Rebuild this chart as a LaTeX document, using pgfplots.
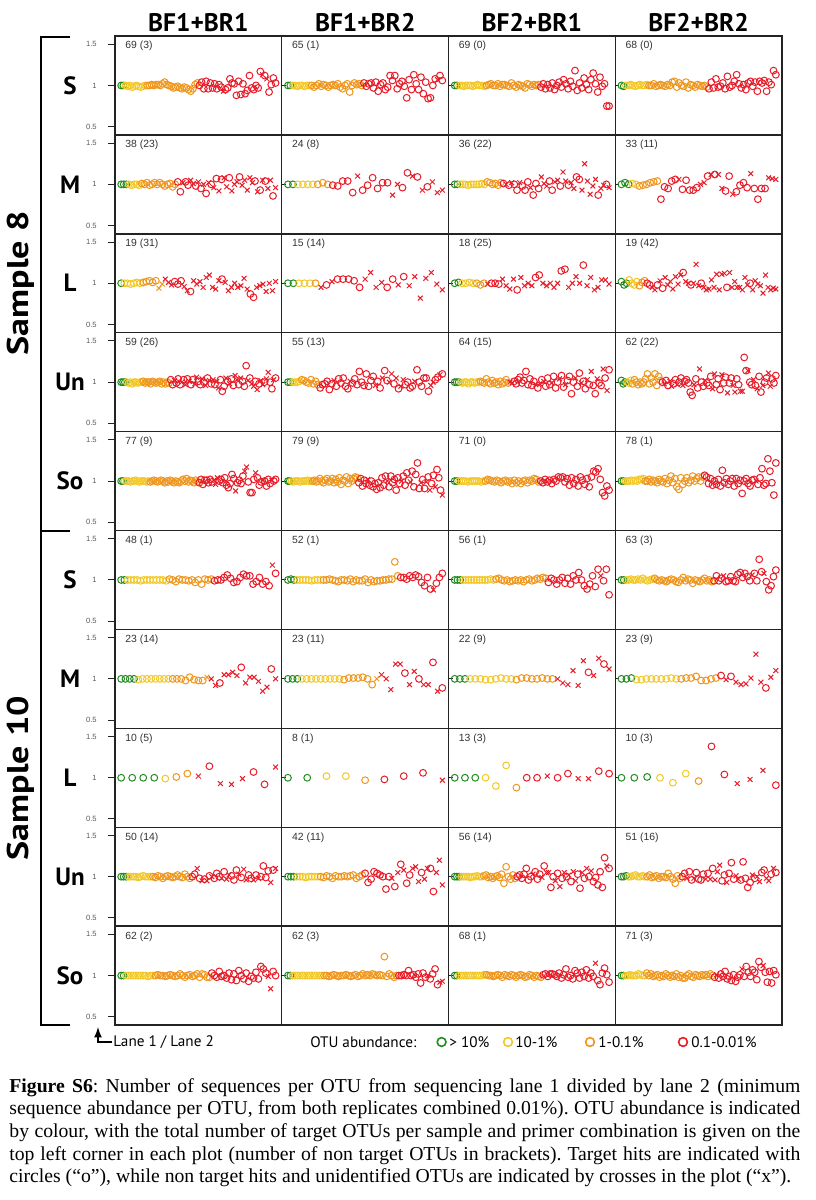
\documentclass[border=0pt]{standalone}
\usepackage{pgfplots}
\pgfplotsset{compat=1.18}
\usepackage{graphicx}
\usepackage{fontspec}
\setmainfont{Liberation Serif}
\newfontfamily\hv{Liberation Sans}
\newfontfamily\my{PT Sans}
\definecolor{cg}{RGB}{34,139,34}
\definecolor{cy}{RGB}{242,200,40}
\definecolor{co}{RGB}{238,150,30}
\definecolor{cr}{RGB}{232,28,40}
\definecolor{ax}{RGB}{35,35,35}
\pgfplotsset{
  panel/.style={scale only axis, width=83.375pt, height=49.45pt, anchor=north west,
    ymin=0.4, ymax=1.6, enlarge x limits=0.04, xtick=\empty,
    ytick={1}, yticklabels={}, ytick pos=left, tick align=inside,
    major tick length=2pt, tick style={ax, line width=0.5pt},
    axis line style={ax, line width=0.7pt}},
  first/.style={ytick={0.5,1,1.5}, yticklabels={0.5,1,1.5}, tick align=outside,
    major tick length=3.5pt,
    yticklabel style={font=\hv\fontsize{3.8}{4}\selectfont, text=black!65, inner sep=1pt, xshift=-4.5pt}},
  dots/.style={only marks, scatter, scatter src=explicit symbolic, mark size=1.7pt, line width=0.5pt,
    scatter/classes={g={mark=o,cg}, y={mark=o,cy}, o={mark=o,co}, r={mark=o,cr}, x={mark=x,cr}, q={mark=x,co}}},
}
\tikzset{cnt/.style={anchor=north west, inner sep=0pt, xshift=5pt, yshift=-2.5pt,
  font=\hv\fontsize{5.2}{6}\selectfont, text=black!80}}
\newcommand\cnt[1]{\node[cnt] at (rel axis cs:0,1) {#1};}
\begin{document}
\begin{tikzpicture}
\useasboundingbox (0,0) rectangle (407.5pt,-600pt);

% ---------------- Sample 8, S
\begin{axis}[panel,first,at={(57.5pt,-18pt)}]
\addplot[dots] table[meta=c,row sep=\\]{x y c\\
1 1.00 g\\2 1.00 g\\3 1.00 y\\4 0.99 y\\5 1.00 y\\6 0.98 y\\7 0.99 y\\8 1.00 y\\9 0.99 y\\10 0.98 y\\11 0.99 y\\12 1.00 y\\
13 1.00 o\\14 1.00 o\\15 1.01 o\\16 1.00 o\\17 1.01 o\\18 1.01 o\\19 1.00 o\\20 1.02 o\\21 1.04 o\\22 1.01 o\\23 1.00 o\\24 0.99 o\\25 0.97 o\\26 0.98 o\\27 0.99 o\\28 0.97 o\\29 0.96 o\\30 0.98 o\\31 0.97 o\\32 0.95 o\\33 0.93 o\\34 0.96 o\\35 1.01 o\\36 1.03 o\\
37 1.00 r\\38 1.04 r\\39 0.96 r\\40 1.05 r\\41 0.96 r\\42 1.03 r\\43 0.97 r\\44 1.02 r\\45 0.96 r\\46 1.01 r\\47 0.98 r\\48 0.93 x\\49 0.95 r\\50 0.97 r\\51 1.08 r\\52 1.03 r\\53 1.02 r\\54 0.88 r\\55 1.05 r\\56 0.89 r\\57 1.02 r\\58 0.90 r\\59 0.94 r\\60 1.12 r\\61 0.97 r\\62 0.95 r\\63 1.00 r\\64 0.97 r\\65 1.17 r\\66 1.13 x\\67 1.12 r\\68 1.08 x\\69 0.92 r\\70 1.01 r\\71 1.09 r\\72 1.03 r\\};
\cnt{69 (3)}
\end{axis}
\begin{axis}[panel,at={(140.875pt,-18pt)}]
\addplot[dots] table[meta=c,row sep=\\]{x y c\\
1 1.00 g\\2 1.00 g\\3 1.00 y\\4 1.00 y\\5 0.99 y\\6 1.00 y\\7 1.00 y\\8 0.99 y\\9 1.00 y\\10 1.00 y\\
11 1.00 o\\12 0.98 o\\13 1.00 o\\14 1.02 o\\15 0.99 o\\16 1.01 o\\17 1.00 o\\18 0.98 o\\19 1.00 o\\20 1.01 o\\21 1.00 o\\22 1.02 o\\23 0.98 o\\24 0.96 o\\25 1.00 o\\26 1.02 o\\27 0.92 o\\28 1.00 o\\29 1.03 o\\30 1.01 o\\31 1.02 o\\32 1.00 o\\
33 1.03 r\\34 0.99 r\\35 1.02 r\\36 1.03 r\\37 0.97 r\\38 1.04 r\\39 0.93 r\\40 1.01 r\\41 1.03 r\\42 0.95 r\\43 0.98 r\\44 1.12 r\\45 1.06 r\\46 1.12 r\\47 0.96 r\\48 1.02 r\\49 1.05 r\\50 0.99 r\\51 0.85 r\\52 1.07 r\\53 0.95 r\\54 1.13 r\\55 1.02 r\\56 0.95 r\\57 1.10 r\\58 0.90 r\\59 1.04 r\\60 0.84 r\\61 0.85 r\\62 1.00 r\\63 1.08 r\\64 1.07 x\\65 1.12 r\\66 1.06 r\\};
\cnt{65 (1)}
\end{axis}
\begin{axis}[panel,at={(224.25pt,-18pt)}]
\addplot[dots] table[meta=c,row sep=\\]{x y c\\
1 1.00 g\\2 1.00 g\\3 1.00 y\\4 1.00 y\\5 0.99 y\\6 1.00 y\\7 1.00 y\\8 1.00 y\\9 0.99 y\\10 1.00 y\\11 1.01 y\\12 1.00 y\\13 1.00 y\\14 0.99 y\\
15 1.00 o\\16 1.01 o\\17 1.02 o\\18 1.00 o\\19 1.00 o\\20 1.02 o\\21 0.99 o\\22 1.01 o\\23 1.01 o\\24 1.00 o\\25 0.99 o\\26 1.03 o\\27 1.00 o\\28 0.98 o\\29 1.01 o\\30 1.00 o\\31 0.99 o\\32 0.97 o\\33 1.02 o\\34 1.01 o\\35 0.99 o\\36 1.01 o\\37 1.00 o\\38 1.01 o\\
39 0.98 r\\40 1.02 r\\41 0.96 r\\42 1.01 r\\43 0.97 r\\44 1.03 r\\45 0.95 r\\46 1.00 r\\47 1.04 r\\48 0.98 r\\49 1.07 r\\50 1.02 r\\51 0.96 r\\52 1.05 r\\53 0.99 r\\54 1.18 r\\55 0.94 r\\56 1.03 r\\57 0.97 r\\58 1.09 r\\59 1.01 r\\60 0.95 r\\61 1.07 r\\62 1.15 r\\63 1.02 r\\64 0.92 r\\65 1.10 r\\66 0.99 r\\67 1.02 r\\68 0.75 r\\69 0.75 r\\};
\cnt{69 (0)}
\end{axis}
\begin{axis}[panel,at={(307.625pt,-18pt)}]
\addplot[dots] table[meta=c,row sep=\\]{x y c\\
1 1.00 g\\2 0.99 g\\3 1.00 y\\4 1.00 y\\5 1.01 y\\6 1.00 y\\7 0.99 y\\8 1.00 y\\9 1.01 y\\10 1.00 y\\11 1.00 y\\12 1.01 y\\
13 1.00 o\\14 1.00 o\\15 1.02 o\\16 0.99 o\\17 1.00 o\\18 1.01 o\\19 1.00 o\\20 0.99 o\\21 1.01 o\\22 1.00 o\\23 1.04 o\\24 1.05 o\\25 0.98 o\\26 1.03 o\\27 1.00 o\\28 0.99 o\\29 1.04 o\\30 0.97 o\\31 1.01 o\\32 1.00 o\\33 0.98 o\\34 1.01 o\\35 1.00 o\\36 0.99 o\\37 1.00 o\\38 0.98 o\\
39 0.96 r\\40 1.04 r\\41 0.97 r\\42 1.08 r\\43 0.98 r\\44 0.99 r\\45 1.03 r\\46 0.96 r\\47 1.11 r\\48 0.98 r\\49 1.00 r\\50 1.05 r\\51 1.13 r\\52 1.02 r\\53 0.97 r\\54 1.01 r\\55 0.95 r\\56 1.03 r\\57 1.05 r\\58 0.99 r\\59 1.04 r\\60 0.93 r\\61 1.05 r\\62 1.03 r\\63 1.06 r\\64 0.93 r\\65 1.04 r\\66 1.01 r\\67 1.18 r\\68 1.13 r\\};
\cnt{68 (0)}
\end{axis}

% ---------------- Sample 8, M
\begin{axis}[panel,first,at={(57.5pt,-67.45pt)}]
\addplot[dots] table[meta=c,row sep=\\]{x y c\\
1 1.00 g\\2 1.00 g\\3 1.00 g\\4 1.00 y\\5 0.99 y\\6 1.00 y\\7 1.00 y\\8 0.99 y\\
9 1.01 o\\10 1.00 o\\11 1.02 o\\12 0.99 o\\13 1.00 o\\14 1.02 o\\15 1.00 o\\16 1.02 o\\17 1.00 o\\18 0.98 o\\19 1.00 o\\20 1.01 o\\21 0.97 o\\22 1.00 o\\
23 1.03 r\\24 0.91 r\\25 1.02 x\\26 1.03 r\\27 0.99 r\\28 1.05 x\\29 1.01 x\\30 0.98 r\\31 1.03 x\\32 0.95 r\\33 1.00 x\\34 0.89 r\\35 1.02 x\\36 1.00 r\\37 0.96 x\\38 1.07 r\\39 0.92 x\\40 1.06 r\\41 1.08 x\\42 0.97 x\\43 1.08 r\\44 0.92 x\\45 1.00 x\\46 1.03 x\\47 1.09 r\\48 0.99 x\\49 1.05 x\\50 0.93 x\\51 1.08 x\\52 1.02 x\\53 1.04 r\\54 0.91 x\\55 0.93 r\\56 1.05 x\\57 1.04 r\\58 0.95 x\\59 1.05 x\\60 0.86 r\\61 0.96 x\\};
\cnt{38 (23)}
\end{axis}
\begin{axis}[panel,at={(140.875pt,-67.45pt)}]
\addplot[dots] table[meta=c,row sep=\\]{x y c\\
1 1.00 g\\2 1.00 g\\3 1.00 y\\4 1.00 y\\5 1.00 y\\6 1.00 y\\7 1.00 o\\8 1.02 o\\9 1.00 o\\
10 0.99 r\\11 0.98 r\\12 1.04 r\\13 1.04 r\\14 0.90 r\\15 1.10 x\\16 0.93 r\\17 0.99 r\\18 1.08 r\\19 0.95 r\\20 1.02 r\\21 1.02 r\\22 0.87 x\\23 1.00 x\\24 0.96 r\\25 1.14 r\\26 1.10 x\\27 1.09 r\\28 0.93 x\\29 0.97 r\\30 1.03 x\\31 0.90 x\\32 0.93 x\\};
\cnt{24 (8)}
\end{axis}
\begin{axis}[panel,at={(224.25pt,-67.45pt)}]
\addplot[dots] table[meta=c,row sep=\\]{x y c\\
1 1.00 g\\2 1.00 g\\3 1.00 y\\4 1.00 y\\5 1.00 y\\6 0.99 y\\7 1.00 y\\8 1.00 y\\9 1.00 y\\10 1.00 y\\11 1.01 y\\12 1.00 y\\
13 1.03 o\\14 1.02 o\\15 1.00 o\\16 1.01 o\\17 0.99 o\\18 1.02 o\\
19 1.01 r\\20 1.00 x\\21 0.99 r\\22 1.02 x\\23 1.00 r\\24 0.93 r\\25 1.02 x\\26 0.98 r\\27 0.93 r\\28 1.03 r\\29 0.96 x\\30 0.87 r\\31 1.01 r\\32 0.95 r\\33 1.09 x\\34 1.01 x\\35 0.98 x\\36 1.04 r\\37 0.93 r\\38 1.03 x\\39 1.05 x\\40 0.98 r\\41 1.15 x\\42 1.04 x\\43 0.99 r\\44 1.02 x\\45 0.95 x\\46 1.09 r\\47 1.06 r\\48 0.93 x\\49 1.25 x\\50 1.04 x\\51 0.88 x\\52 0.98 x\\53 1.06 x\\54 0.87 r\\55 0.95 x\\56 0.99 x\\57 1.00 r\\58 0.96 x\\};
\cnt{36 (22)}
\end{axis}
\begin{axis}[panel,at={(307.625pt,-67.45pt)}]
\addplot[dots] table[meta=c,row sep=\\]{x y c\\
1 1.00 g\\2 1.02 g\\3 1.00 g\\4 1.01 y\\5 1.00 y\\6 0.98 o\\7 0.99 o\\8 1.00 o\\9 1.02 o\\10 1.03 o\\11 1.04 o\\
12 0.82 r\\13 0.97 r\\14 0.95 r\\15 1.04 r\\16 1.06 r\\17 1.06 x\\18 0.94 r\\19 1.05 r\\20 0.93 r\\21 0.93 r\\22 0.96 r\\23 1.00 x\\24 1.02 x\\25 1.10 r\\26 1.12 x\\27 1.12 r\\28 1.12 x\\29 0.95 x\\30 0.92 r\\31 1.10 r\\32 0.88 x\\33 0.91 r\\34 0.99 r\\35 1.02 r\\36 0.96 r\\37 1.13 x\\38 0.95 r\\39 0.82 r\\40 0.95 r\\41 0.95 r\\42 1.08 x\\43 1.07 x\\44 1.06 x\\};
\cnt{33 (11)}
\end{axis}

% ---------------- Sample 8, L
\begin{axis}[panel,first,at={(57.5pt,-116.9pt)}]
\addplot[dots] table[meta=c,row sep=\\]{x y c\\
1 1.00 g\\2 1.00 y\\3 1.00 y\\4 0.99 y\\5 1.00 y\\6 1.01 y\\7 1.00 y\\8 1.01 o\\9 1.02 o\\10 1.03 o\\11 1.01 o\\12 1.03 o\\13 0.94 q\\14 0.99 q\\
15 1.05 x\\16 1.01 x\\17 0.98 x\\18 1.02 r\\19 0.99 r\\20 1.03 r\\21 0.96 x\\22 0.91 x\\23 0.90 r\\24 1.03 x\\25 0.99 x\\26 1.02 x\\27 0.95 x\\28 1.07 x\\29 1.10 x\\30 0.95 x\\31 0.93 x\\32 1.03 x\\33 1.05 r\\34 1.01 x\\35 0.91 x\\36 0.95 x\\37 1.00 x\\38 0.95 x\\39 0.97 x\\40 1.06 x\\41 0.93 x\\42 0.87 r\\43 0.83 r\\44 0.95 x\\45 0.97 x\\46 0.99 x\\47 0.90 x\\48 1.00 x\\49 0.91 x\\50 1.02 x\\};
\cnt{19 (31)}
\end{axis}
\begin{axis}[panel,at={(140.875pt,-116.9pt)}]
\addplot[dots] table[meta=c,row sep=\\]{x y c\\
1 1.00 g\\2 1.00 g\\3 1.00 y\\4 1.00 y\\5 1.00 y\\6 1.00 o\\
7 0.95 x\\8 0.98 r\\9 1.02 x\\10 1.05 r\\11 1.05 r\\12 1.05 r\\13 1.03 r\\14 0.95 r\\15 1.05 x\\16 1.13 x\\17 0.95 x\\18 1.01 x\\19 0.95 r\\20 1.05 r\\21 0.98 x\\22 1.08 r\\23 0.97 x\\24 1.08 x\\25 0.82 x\\26 1.06 x\\27 1.13 x\\28 0.99 x\\29 0.92 x\\};
\cnt{15 (14)}
\end{axis}
\begin{axis}[panel,at={(224.25pt,-116.9pt)}]
\addplot[dots] table[meta=c,row sep=\\]{x y c\\
1 1.00 g\\2 1.01 g\\3 1.00 y\\4 1.00 y\\5 1.01 y\\6 1.00 y\\7 1.00 o\\8 0.98 o\\9 1.00 o\\
10 0.99 x\\11 1.00 r\\12 1.00 r\\13 0.99 r\\14 1.05 x\\15 0.97 x\\16 0.93 x\\17 1.05 x\\18 0.92 r\\19 1.07 x\\20 0.97 x\\21 1.00 x\\22 0.97 x\\23 1.07 r\\24 1.10 r\\25 1.00 x\\26 0.97 x\\27 1.00 x\\28 0.95 x\\29 1.00 x\\30 1.15 r\\31 1.17 r\\32 0.95 x\\33 1.00 x\\34 1.08 x\\35 1.00 x\\36 1.22 r\\37 0.97 x\\38 1.07 x\\39 0.92 x\\40 0.95 x\\41 1.04 x\\42 1.04 x\\43 0.99 x\\};
\cnt{18 (25)}
\end{axis}
\begin{axis}[panel,at={(307.625pt,-116.9pt)}]
\addplot[dots] table[meta=c,row sep=\\]{x y c\\
1 1.02 g\\2 0.98 g\\3 1.00 g\\4 1.04 y\\5 1.00 y\\6 0.98 y\\7 1.02 y\\8 0.97 o\\9 1.01 o\\10 1.03 o\\
11 1.00 r\\12 0.98 r\\13 0.95 x\\14 0.92 x\\15 0.98 r\\16 1.03 x\\17 0.94 r\\18 1.07 x\\19 0.98 x\\20 1.02 x\\21 0.93 x\\22 1.08 x\\23 0.99 x\\24 1.10 x\\25 1.13 r\\26 1.02 x\\27 1.00 x\\28 0.98 r\\29 1.00 x\\30 1.23 x\\31 0.97 x\\32 1.00 r\\33 0.95 x\\34 0.92 x\\35 0.93 x\\36 1.04 x\\37 0.95 x\\38 1.11 x\\39 0.92 x\\40 1.11 x\\41 1.12 x\\42 0.95 r\\43 1.13 x\\44 0.95 x\\45 1.02 x\\46 0.95 x\\47 0.95 x\\48 0.92 x\\49 1.07 x\\50 0.98 x\\51 1.00 r\\52 0.92 x\\53 1.03 x\\54 0.99 x\\55 0.97 x\\56 0.88 x\\57 1.10 x\\58 0.95 x\\59 0.92 x\\60 0.94 x\\61 0.93 x\\};
\cnt{19 (42)}
\end{axis}

% ---------------- Sample 8, Un
\begin{axis}[panel,first,at={(57.5pt,-166.35pt)}]
\addplot[dots] table[meta=c,row sep=\\]{x y c\\
1 1.00 g\\2 1.00 g\\3 1.00 g\\4 1.00 y\\5 0.99 y\\6 1.00 y\\7 0.98 y\\8 1.00 y\\9 1.00 y\\10 0.99 y\\11 1.00 y\\12 1.00 y\\
13 1.01 o\\14 0.99 o\\15 1.00 o\\16 1.00 o\\17 0.98 o\\18 1.01 o\\19 1.00 o\\20 0.99 o\\21 1.00 o\\22 1.01 o\\23 0.98 o\\24 1.00 o\\25 0.98 o\\26 1.00 o\\27 0.99 o\\
28 1.03 r\\29 0.97 r\\30 1.02 x\\31 0.99 r\\32 1.04 r\\33 0.97 r\\34 1.00 x\\35 1.03 r\\36 0.97 x\\37 1.04 r\\38 1.01 x\\39 0.97 r\\40 1.03 r\\41 0.98 x\\42 1.06 x\\43 1.01 r\\44 0.97 r\\45 1.04 x\\46 1.00 r\\47 0.96 x\\48 1.05 r\\49 1.02 x\\50 0.98 r\\51 1.03 x\\52 0.97 r\\53 1.01 x\\54 0.93 x\\55 1.03 r\\56 0.89 r\\57 0.95 r\\58 1.05 x\\59 1.01 r\\60 0.98 x\\61 1.04 r\\62 0.96 r\\63 1.08 x\\64 1.03 x\\65 0.97 r\\66 1.05 x\\67 1.01 r\\68 0.95 r\\69 1.20 r\\70 1.02 x\\71 1.05 r\\72 0.98 x\\73 0.95 x\\74 1.01 r\\75 0.91 x\\76 0.98 r\\77 1.02 x\\78 0.97 x\\79 1.00 r\\80 1.04 x\\81 1.12 x\\82 1.00 r\\83 0.92 r\\84 1.03 x\\85 1.05 r\\};
\cnt{59 (26)}
\end{axis}
\begin{axis}[panel,at={(140.875pt,-166.35pt)}]
\addplot[dots] table[meta=c,row sep=\\]{x y c\\
1 1.00 g\\2 1.00 g\\3 1.00 y\\4 1.00 y\\5 1.00 y\\6 1.01 y\\7 1.03 o\\8 1.02 o\\9 1.00 o\\10 0.99 o\\11 1.03 o\\12 0.98 o\\13 1.01 o\\14 0.97 o\\
15 0.93 r\\16 0.97 r\\17 0.98 r\\18 1.01 r\\19 0.91 r\\20 0.98 r\\21 1.02 x\\22 0.95 r\\23 1.04 r\\24 0.99 r\\25 1.05 r\\26 0.95 r\\27 0.92 r\\28 1.01 x\\29 0.99 r\\30 1.04 r\\31 0.97 r\\32 1.13 r\\33 1.00 r\\34 0.96 r\\35 1.10 r\\36 0.95 r\\37 1.02 r\\38 1.07 r\\39 0.96 x\\40 1.01 r\\41 0.93 r\\42 1.05 x\\43 1.14 r\\44 1.02 r\\45 1.00 x\\46 1.10 x\\47 0.98 r\\48 1.05 x\\49 0.92 r\\50 0.95 x\\51 1.03 x\\52 0.97 r\\53 1.00 r\\54 0.93 r\\55 0.95 r\\56 1.01 x\\57 1.15 r\\58 1.00 r\\59 0.95 r\\60 1.05 r\\61 1.05 r\\62 0.89 r\\63 0.96 x\\64 1.00 x\\65 1.03 r\\66 1.06 r\\67 1.09 x\\68 1.10 r\\};
\cnt{55 (13)}
\end{axis}
\begin{axis}[panel,at={(224.25pt,-166.35pt)}]
\addplot[dots] table[meta=c,row sep=\\]{x y c\\
1 1.00 g\\2 1.00 g\\3 1.00 g\\4 1.00 y\\5 0.99 y\\6 1.00 y\\7 1.00 y\\8 0.98 y\\9 1.00 y\\10 1.00 y\\11 0.99 y\\12 1.00 y\\13 1.00 y\\
14 1.01 o\\15 1.00 o\\16 0.99 o\\17 1.04 o\\18 1.00 o\\19 0.98 o\\20 1.02 o\\21 0.99 o\\22 1.00 o\\23 0.97 o\\24 1.01 o\\25 0.98 o\\26 1.00 o\\27 1.03 o\\28 0.99 o\\
29 1.00 x\\30 0.99 x\\31 1.01 r\\32 0.98 r\\33 1.03 r\\34 1.06 r\\35 0.99 r\\36 1.02 r\\37 1.13 r\\38 0.97 r\\39 1.04 r\\40 0.96 r\\41 1.01 r\\42 0.97 x\\43 0.93 r\\44 0.98 x\\45 1.03 r\\46 1.01 x\\47 0.95 r\\48 1.05 r\\49 0.97 r\\50 0.99 x\\51 1.07 r\\52 0.93 r\\53 1.00 r\\54 1.04 x\\55 1.08 r\\56 0.94 r\\57 0.97 x\\58 1.02 r\\59 1.07 r\\60 0.86 r\\61 1.00 r\\62 1.05 x\\63 0.95 r\\64 1.11 r\\65 0.99 x\\66 1.01 r\\67 0.92 r\\68 1.03 x\\69 0.97 r\\70 1.13 x\\71 0.96 r\\72 0.86 r\\73 1.04 x\\74 0.99 r\\75 0.96 r\\76 1.16 x\\77 1.05 r\\78 0.90 x\\79 1.15 r\\};
\cnt{64 (15)}
\end{axis}
\begin{axis}[panel,at={(307.625pt,-166.35pt)}]
\addplot[dots] table[meta=c,row sep=\\]{x y c\\
1 1.02 g\\2 0.98 g\\3 1.00 g\\4 1.00 y\\5 0.99 y\\6 1.02 y\\
7 0.98 o\\8 1.03 o\\9 1.00 o\\10 0.97 o\\11 1.00 o\\12 0.98 o\\13 1.00 o\\14 1.04 o\\15 1.10 o\\16 0.98 o\\17 1.05 o\\18 1.00 o\\19 1.10 o\\20 0.96 o\\21 1.07 o\\22 1.02 o\\
23 1.00 r\\24 0.98 x\\25 1.02 r\\26 0.96 r\\27 1.01 x\\28 0.95 x\\29 0.98 r\\30 1.03 r\\31 0.97 x\\32 1.00 r\\33 1.05 r\\34 0.96 x\\35 1.01 r\\36 1.03 r\\37 0.99 r\\38 0.88 r\\39 0.84 r\\40 0.97 x\\41 1.04 r\\42 0.93 r\\43 1.16 x\\44 1.00 r\\45 0.95 r\\46 1.02 x\\47 0.99 r\\48 0.96 r\\49 1.07 r\\50 0.92 x\\51 1.10 x\\52 0.97 r\\53 1.04 r\\54 0.91 r\\55 1.09 x\\56 0.99 r\\57 1.06 r\\58 0.87 x\\59 0.99 r\\60 1.05 r\\61 0.96 x\\62 0.88 x\\63 1.04 r\\64 0.97 r\\65 0.89 x\\66 0.89 x\\67 1.30 r\\68 1.14 r\\69 1.14 x\\70 1.00 r\\71 0.97 r\\72 1.03 x\\73 0.96 r\\74 0.92 x\\75 1.07 r\\76 0.88 r\\77 0.96 x\\78 1.00 r\\79 1.05 r\\80 1.11 x\\81 0.95 x\\82 1.04 r\\83 0.99 r\\84 1.08 r\\};
\cnt{62 (22)}
\end{axis}

% ---------------- Sample 8, So
\begin{axis}[panel,first,at={(57.5pt,-215.8pt)}]
\addplot[dots] table[meta=c,row sep=\\]{x y c\\
1 1.00 g\\2 1.00 g\\3 1.00 y\\4 1.00 y\\5 1.00 y\\6 0.99 y\\7 1.00 y\\8 1.00 y\\9 1.01 y\\10 1.00 y\\11 0.99 y\\12 1.00 y\\13 1.00 y\\14 1.00 y\\15 0.99 y\\16 1.00 y\\
17 0.99 o\\18 1.00 o\\19 1.01 o\\20 1.00 o\\21 0.99 o\\22 1.00 o\\23 1.01 o\\24 1.00 o\\25 0.98 o\\26 1.00 o\\27 0.99 o\\28 1.01 o\\29 1.00 o\\30 0.98 o\\31 1.00 o\\32 0.99 o\\33 0.98 o\\34 1.00 o\\35 1.02 o\\36 1.00 o\\37 1.03 o\\38 0.99 o\\39 1.01 o\\40 1.00 o\\41 0.98 o\\42 1.01 o\\43 0.99 o\\
44 0.98 r\\45 1.02 r\\46 0.96 r\\47 1.01 r\\48 1.01 r\\49 0.98 r\\50 1.02 r\\51 0.99 r\\52 1.01 x\\53 0.96 x\\54 1.04 x\\55 1.00 r\\56 1.02 r\\57 0.98 r\\58 1.04 r\\59 0.95 r\\60 0.92 r\\61 0.97 r\\62 1.08 r\\63 1.03 r\\64 0.88 x\\65 0.98 r\\66 1.01 r\\67 0.97 r\\68 1.06 r\\69 1.12 x\\70 1.17 x\\71 0.99 r\\72 0.86 r\\73 0.86 r\\74 1.02 r\\75 1.10 x\\76 1.04 r\\77 0.95 r\\78 0.99 r\\79 1.01 x\\80 1.00 r\\81 0.94 r\\82 1.02 r\\83 0.97 r\\84 1.01 x\\85 1.00 r\\86 1.02 r\\};
\cnt{77 (9)}
\end{axis}
\begin{axis}[panel,at={(140.875pt,-215.8pt)}]
\addplot[dots] table[meta=c,row sep=\\]{x y c\\
1 1.00 g\\2 1.00 g\\3 1.00 y\\4 0.99 y\\5 1.00 y\\6 1.00 y\\7 1.00 y\\8 0.99 y\\9 1.00 y\\10 1.00 y\\11 1.00 y\\12 1.01 y\\13 1.00 y\\14 1.00 y\\
15 1.00 o\\16 1.01 o\\17 0.99 o\\18 1.00 o\\19 1.03 o\\20 1.00 o\\21 0.98 o\\22 1.01 o\\23 1.03 o\\24 0.99 o\\25 1.00 o\\26 1.03 o\\27 0.98 o\\28 1.02 o\\29 0.99 o\\30 1.04 o\\31 0.96 o\\32 1.01 o\\33 1.00 o\\34 1.05 o\\35 0.97 o\\36 1.03 o\\37 1.00 o\\38 1.03 o\\39 1.05 o\\40 1.04 o\\
41 0.98 r\\42 1.03 r\\43 0.94 r\\44 1.01 r\\45 0.97 r\\46 1.02 x\\47 0.95 r\\48 1.00 r\\49 0.93 r\\50 0.97 r\\51 0.90 r\\52 0.98 r\\53 0.92 r\\54 1.04 r\\55 0.95 r\\56 1.06 r\\57 1.00 x\\58 0.93 r\\59 1.06 r\\60 0.98 r\\61 1.02 r\\62 0.89 r\\63 1.04 r\\64 0.97 r\\65 1.00 x\\66 1.06 r\\67 0.95 r\\68 1.10 r\\69 1.01 r\\70 0.99 x\\71 1.12 r\\72 0.93 r\\73 1.08 r\\74 1.22 r\\75 0.91 r\\76 0.98 x\\77 1.02 r\\78 0.91 r\\79 0.99 x\\80 1.05 r\\81 0.89 x\\82 0.97 r\\83 1.07 r\\84 0.93 x\\85 1.14 r\\86 1.04 r\\87 0.89 r\\88 0.83 x\\};
\cnt{79 (9)}
\end{axis}
\begin{axis}[panel,at={(224.25pt,-215.8pt)}]
\addplot[dots] table[meta=c,row sep=\\]{x y c\\
1 1.00 g\\2 1.00 g\\3 1.00 y\\4 1.00 y\\5 1.00 y\\6 1.00 y\\7 0.99 y\\8 1.00 y\\9 1.00 y\\10 1.00 y\\11 1.00 y\\12 1.00 y\\13 0.99 y\\14 1.00 y\\
15 1.00 o\\16 1.02 o\\17 1.01 o\\18 1.00 o\\19 0.99 o\\20 1.01 o\\21 1.00 o\\22 0.98 o\\23 1.00 o\\24 1.01 o\\25 0.99 o\\26 1.00 o\\27 0.97 o\\28 1.01 o\\29 0.98 o\\30 1.00 o\\31 0.97 o\\32 1.00 o\\33 1.01 o\\34 0.98 o\\35 1.01 o\\36 1.00 o\\37 1.03 o\\38 1.02 o\\39 0.99 o\\
40 1.00 r\\41 0.98 r\\42 1.02 r\\43 0.99 r\\44 1.01 r\\45 0.97 r\\46 1.02 r\\47 1.00 r\\48 1.05 r\\49 1.04 r\\50 1.05 r\\51 0.99 r\\52 1.03 r\\53 0.95 r\\54 1.04 r\\55 0.97 r\\56 1.02 r\\57 0.94 r\\58 1.05 r\\59 1.01 r\\60 0.96 r\\61 1.03 r\\62 0.93 r\\63 1.05 r\\64 1.12 r\\65 1.11 r\\66 1.15 r\\67 1.02 r\\68 0.86 r\\69 0.82 r\\70 0.94 r\\71 0.89 r\\};
\cnt{71 (0)}
\end{axis}
\begin{axis}[panel,at={(307.625pt,-215.8pt)}]
\addplot[dots] table[meta=c,row sep=\\]{x y c\\
1 1.00 g\\2 1.00 g\\3 1.00 y\\4 1.00 y\\5 1.00 y\\6 1.01 y\\7 1.00 y\\8 1.01 y\\9 1.00 y\\10 1.02 y\\11 1.02 y\\12 1.03 y\\
13 1.00 o\\14 1.00 o\\15 1.02 o\\16 0.99 o\\17 1.01 o\\18 1.00 o\\19 0.98 o\\20 1.02 o\\21 1.00 o\\22 0.99 o\\23 1.03 o\\24 0.97 o\\25 1.01 o\\26 1.06 o\\27 0.98 o\\28 1.03 o\\29 0.93 o\\30 0.90 o\\31 1.04 o\\32 0.96 o\\33 1.00 o\\34 1.04 o\\35 0.98 o\\36 1.01 o\\37 1.06 o\\38 1.00 o\\39 1.03 o\\40 1.05 o\\41 1.00 o\\42 1.05 o\\
43 1.07 r\\44 1.05 r\\45 0.97 r\\46 1.03 r\\47 0.95 r\\48 1.00 r\\49 0.96 r\\50 1.02 r\\51 0.94 r\\52 1.13 r\\53 0.98 r\\54 1.03 r\\55 0.96 r\\56 1.00 r\\57 1.03 r\\58 0.94 r\\59 1.03 r\\60 0.97 r\\61 1.01 r\\62 0.85 r\\63 1.00 r\\64 1.03 r\\65 0.97 r\\66 0.94 r\\67 1.01 r\\68 1.02 r\\69 1.00 x\\70 0.96 r\\71 1.04 r\\72 1.15 r\\73 0.95 r\\74 0.97 r\\75 1.27 r\\76 1.12 r\\77 0.98 r\\78 0.83 r\\79 1.22 r\\};
\cnt{78 (1)}
\end{axis}

% ---------------- Sample 10, S
\begin{axis}[panel,first,at={(57.5pt,-265.25pt)}]
\addplot[dots] table[meta=c,row sep=\\]{x y c\\
1 1.00 g\\2 1.00 g\\3 1.00 y\\4 1.00 y\\5 1.00 y\\6 1.00 y\\7 0.99 y\\8 1.00 y\\9 1.00 y\\10 1.00 y\\11 1.00 y\\12 1.00 y\\13 1.00 y\\14 1.00 y\\15 0.99 y\\
16 1.01 o\\17 1.00 o\\18 0.98 o\\19 1.01 o\\20 1.00 o\\21 1.00 o\\22 0.99 o\\23 1.00 o\\24 0.97 o\\25 1.00 o\\26 0.95 o\\27 1.01 o\\28 1.00 o\\29 1.01 o\\
30 0.99 r\\31 1.00 r\\32 1.00 r\\33 1.03 r\\34 1.06 r\\35 1.02 r\\36 0.97 r\\37 0.98 r\\38 1.03 r\\39 1.07 r\\40 1.05 r\\41 1.05 r\\42 0.95 r\\43 0.98 r\\44 1.03 r\\45 0.95 r\\46 0.98 r\\47 0.93 r\\48 1.18 x\\49 1.08 r\\};
\cnt{48 (1)}
\end{axis}
\begin{axis}[panel,at={(140.875pt,-265.25pt)}]
\addplot[dots] table[meta=c,row sep=\\]{x y c\\
1 1.00 g\\2 1.01 g\\3 1.00 g\\4 1.00 y\\5 1.00 y\\6 1.00 y\\7 1.00 y\\8 1.00 y\\9 0.99 y\\10 1.00 y\\11 1.00 y\\12 1.00 y\\
13 1.00 o\\14 1.00 o\\15 1.01 o\\16 1.00 o\\17 0.99 o\\18 0.98 o\\19 1.00 o\\20 1.00 o\\21 0.99 o\\22 1.01 o\\23 0.98 o\\24 1.00 o\\25 0.99 o\\26 0.99 o\\27 1.01 o\\28 0.97 o\\29 1.00 o\\30 0.98 o\\31 0.99 o\\32 0.99 o\\33 1.00 o\\34 1.00 o\\35 1.01 o\\36 1.01 o\\37 1.22 o\\38 1.05 o\\
39 1.03 r\\40 1.03 r\\41 1.01 r\\42 1.05 r\\43 1.03 r\\44 1.06 r\\45 1.04 r\\46 0.97 r\\47 0.93 r\\48 1.03 r\\49 0.89 r\\50 0.88 x\\51 0.96 r\\52 1.03 r\\53 1.08 r\\};
\cnt{52 (1)}
\end{axis}
\begin{axis}[panel,at={(224.25pt,-265.25pt)}]
\addplot[dots] table[meta=c,row sep=\\]{x y c\\
1 1.00 g\\2 1.00 g\\3 1.00 g\\4 1.00 y\\5 1.00 y\\6 1.00 y\\7 1.00 y\\8 1.00 y\\9 1.00 y\\10 1.00 y\\11 1.00 y\\12 1.00 y\\13 1.00 y\\14 1.01 y\\15 1.00 y\\
16 1.01 o\\17 1.02 o\\18 1.00 o\\19 0.99 o\\20 1.00 o\\21 0.98 o\\22 0.99 o\\23 1.00 o\\24 0.99 o\\25 1.00 o\\26 0.98 o\\27 1.00 o\\28 1.01 o\\29 0.99 o\\30 1.00 o\\31 1.02 o\\32 1.01 o\\33 1.03 o\\34 1.02 o\\
35 0.97 r\\36 1.02 r\\37 1.00 r\\38 0.95 r\\39 1.00 r\\40 1.03 r\\41 0.96 r\\42 1.02 r\\43 0.95 r\\44 1.05 r\\45 1.00 r\\46 1.09 r\\47 1.00 r\\48 0.93 r\\49 0.89 r\\50 0.95 r\\51 1.05 r\\52 0.92 r\\53 1.13 r\\54 1.05 x\\55 0.99 r\\56 1.13 r\\57 0.82 r\\};
\cnt{56 (1)}
\end{axis}
\begin{axis}[panel,at={(307.625pt,-265.25pt)}]
\addplot[dots] table[meta=c,row sep=\\]{x y c\\
1 1.00 g\\2 1.00 g\\3 1.00 y\\4 1.00 y\\5 1.01 y\\6 1.00 y\\7 1.00 y\\8 1.01 y\\9 1.00 y\\10 1.02 y\\11 1.00 y\\12 0.99 y\\13 1.00 y\\14 1.01 y\\
15 1.02 o\\16 1.00 o\\17 0.99 o\\18 1.00 o\\19 0.99 o\\20 0.98 o\\21 1.00 o\\22 1.01 o\\23 1.00 o\\24 0.98 o\\25 0.97 o\\26 1.00 o\\27 1.03 o\\28 0.99 o\\29 1.01 o\\30 1.00 o\\31 0.96 o\\32 1.00 o\\33 0.99 o\\34 0.98 o\\35 1.00 o\\36 1.02 o\\37 0.99 o\\38 1.00 o\\39 0.98 o\\
40 0.99 r\\41 1.05 r\\42 0.99 r\\43 1.02 r\\44 1.05 x\\45 0.98 r\\46 0.99 r\\47 1.04 r\\48 0.99 r\\49 0.98 r\\50 1.07 r\\51 1.09 r\\52 1.03 r\\53 1.08 r\\54 1.04 r\\55 0.99 r\\56 1.06 x\\57 1.08 r\\58 0.99 r\\59 1.25 r\\60 1.10 r\\61 1.08 x\\62 0.98 r\\63 0.88 r\\64 0.93 r\\65 1.04 r\\66 1.12 r\\};
\cnt{63 (3)}
\end{axis}

% ---------------- Sample 10, M
\begin{axis}[panel,first,at={(57.5pt,-314.7pt)}]
\addplot[dots] table[meta=c,row sep=\\]{x y c\\
1 1.00 g\\2 1.00 g\\3 1.00 g\\4 1.00 g\\5 0.99 y\\6 1.00 y\\7 1.00 y\\8 1.00 y\\9 1.00 y\\10 1.00 y\\11 1.00 y\\12 1.00 y\\
13 1.00 o\\14 1.00 o\\15 1.00 o\\16 0.98 o\\17 1.02 o\\18 0.99 o\\19 0.98 o\\20 0.98 o\\
21 1.02 q\\22 1.00 x\\23 0.92 x\\24 0.95 r\\25 1.05 x\\26 1.05 x\\27 1.08 x\\28 1.04 x\\29 1.14 r\\30 0.95 x\\31 1.02 x\\32 1.02 x\\33 0.97 x\\34 0.85 x\\35 0.90 x\\36 1.12 r\\37 1.00 x\\};
\cnt{23 (14)}
\end{axis}
\begin{axis}[panel,at={(140.875pt,-314.7pt)}]
\addplot[dots] table[meta=c,row sep=\\]{x y c\\
1 1.00 g\\2 1.00 g\\3 1.00 g\\4 1.00 y\\5 1.00 y\\6 1.00 y\\7 1.00 y\\8 1.00 y\\9 1.00 y\\10 1.00 y\\11 1.00 y\\12 1.00 y\\
13 0.99 o\\14 1.01 o\\15 1.01 o\\16 1.01 o\\17 1.02 o\\18 1.00 o\\19 0.93 o\\
20 1.00 q\\21 1.05 x\\22 1.00 x\\23 0.87 x\\24 1.18 x\\25 1.18 x\\26 1.07 r\\27 0.93 x\\28 1.09 x\\29 1.00 r\\30 0.93 x\\31 0.93 x\\32 1.20 r\\33 0.85 x\\34 0.89 r\\};
\cnt{23 (11)}
\end{axis}
\begin{axis}[panel,at={(224.25pt,-314.7pt)}]
\addplot[dots] table[meta=c,row sep=\\]{x y c\\
1 1.00 g\\2 1.00 g\\3 1.00 g\\4 1.00 y\\5 1.00 y\\6 1.00 y\\7 0.99 y\\8 0.99 y\\9 1.00 y\\10 1.01 y\\11 1.00 y\\12 1.00 y\\
13 0.99 o\\14 1.01 o\\15 1.01 o\\16 1.00 o\\17 1.00 o\\18 1.01 o\\19 1.00 o\\20 1.00 o\\
21 1.00 x\\22 0.95 x\\23 0.93 x\\24 1.10 x\\25 0.92 x\\26 1.22 x\\27 1.08 r\\28 1.04 x\\29 1.25 x\\30 1.18 r\\31 1.12 x\\};
\cnt{22 (9)}
\end{axis}
\begin{axis}[panel,at={(307.625pt,-314.7pt)}]
\addplot[dots] table[meta=c,row sep=\\]{x y c\\
1 1.00 g\\2 1.00 g\\3 1.01 g\\4 0.99 y\\5 0.99 y\\6 1.00 y\\7 1.00 y\\8 1.00 y\\9 1.00 y\\10 1.00 y\\11 1.01 y\\12 1.00 y\\
13 1.00 o\\14 1.01 o\\15 1.01 o\\16 1.03 o\\17 0.98 o\\18 0.98 o\\19 1.00 o\\20 1.01 o\\
21 1.04 r\\22 0.99 x\\23 1.03 r\\24 0.96 x\\25 0.93 x\\26 0.94 x\\27 1.01 x\\28 1.30 x\\29 0.96 x\\30 0.89 r\\31 1.02 x\\32 1.10 x\\};
\cnt{23 (9)}
\end{axis}

% ---------------- Sample 10, L
\begin{axis}[panel,first,at={(57.5pt,-364.15pt)}]
\addplot[dots] table[meta=c,row sep=\\]{x y c\\
1 1.00 g\\2 1.00 g\\3 1.00 g\\4 1.00 g\\5 0.99 y\\6 1.01 o\\7 1.05 o\\8 1.02 x\\9 1.14 r\\10 0.93 x\\11 0.92 x\\12 0.99 x\\13 1.07 r\\14 0.92 r\\15 1.13 x\\};
\cnt{10 (5)}
\end{axis}
\begin{axis}[panel,at={(140.875pt,-364.15pt)}]
\addplot[dots] table[meta=c,row sep=\\]{x y c\\
1 1.00 g\\2 1.00 g\\3 1.02 y\\4 1.02 y\\5 0.97 o\\6 0.98 r\\7 1.02 r\\8 1.06 r\\9 0.97 x\\};
\cnt{8 (1)}
\end{axis}
\begin{axis}[panel,at={(224.25pt,-364.15pt)}]
\addplot[dots] table[meta=c,row sep=\\]{x y c\\
1 1.00 g\\2 1.00 g\\3 1.00 g\\4 1.00 y\\5 0.90 y\\6 1.15 y\\7 0.88 o\\8 1.00 r\\9 1.00 r\\10 1.02 x\\11 1.00 r\\12 1.05 r\\13 0.99 x\\14 0.99 x\\15 1.08 r\\16 1.05 r\\};
\cnt{13 (3)}
\end{axis}
\begin{axis}[panel,at={(307.625pt,-364.15pt)}]
\addplot[dots] table[meta=c,row sep=\\]{x y c\\
1 1.00 g\\2 1.00 g\\3 1.01 g\\4 1.00 y\\5 0.94 y\\6 1.05 y\\7 0.96 o\\8 1.38 r\\9 1.04 r\\10 0.93 x\\11 0.98 x\\12 1.09 x\\13 0.91 r\\};
\cnt{10 (3)}
\end{axis}

% ---------------- Sample 10, Un
\begin{axis}[panel,first,at={(57.5pt,-413.6pt)}]
\addplot[dots] table[meta=c,row sep=\\]{x y c\\
1 1.00 g\\2 1.00 g\\3 1.00 g\\4 1.00 y\\5 1.00 y\\6 1.00 y\\7 1.00 y\\8 0.99 y\\9 1.00 y\\10 1.01 y\\11 1.00 y\\12 1.00 y\\13 1.00 y\\
14 1.00 o\\15 0.99 o\\16 1.01 o\\17 1.00 o\\18 0.98 o\\19 1.00 o\\20 1.01 o\\21 1.00 o\\22 0.99 o\\23 1.00 o\\24 1.02 o\\25 1.00 o\\26 0.99 o\\27 1.03 o\\28 1.00 o\\29 0.98 o\\
30 1.00 r\\31 1.03 r\\32 1.10 x\\33 0.98 r\\34 0.95 x\\35 0.97 r\\36 0.95 x\\37 1.01 r\\38 1.00 x\\39 0.98 r\\40 1.04 r\\41 1.00 r\\42 0.98 x\\43 1.06 r\\44 0.97 x\\45 1.02 x\\46 1.01 r\\47 0.96 r\\48 1.08 r\\49 1.03 x\\50 0.99 r\\51 1.09 x\\52 0.96 x\\53 1.02 r\\54 0.98 r\\55 0.96 x\\56 1.02 r\\57 0.98 x\\58 1.00 r\\59 1.13 r\\60 0.99 r\\61 1.07 r\\62 0.93 x\\63 1.08 r\\64 1.10 x\\};
\cnt{50 (14)}
\end{axis}
\begin{axis}[panel,at={(140.875pt,-413.6pt)}]
\addplot[dots] table[meta=c,row sep=\\]{x y c\\
1 1.00 g\\2 1.00 g\\3 1.00 g\\4 1.00 y\\5 1.00 y\\6 1.00 y\\7 0.99 y\\8 1.00 y\\9 1.00 y\\10 1.00 y\\11 1.00 y\\
12 1.00 o\\13 0.99 o\\14 1.01 o\\15 1.00 o\\16 0.98 o\\17 1.01 o\\18 1.00 o\\19 1.00 o\\20 1.01 o\\21 1.00 o\\22 1.01 o\\23 1.02 o\\24 0.98 o\\25 1.00 o\\26 1.02 o\\
27 1.04 r\\28 0.93 r\\29 0.97 r\\30 1.06 r\\31 1.04 r\\32 1.02 r\\33 1.00 r\\34 0.85 r\\35 1.00 r\\36 0.98 x\\37 0.88 r\\38 1.05 x\\39 1.15 r\\40 1.08 x\\41 0.92 r\\42 1.02 r\\43 1.10 x\\44 1.12 x\\45 0.94 x\\46 1.05 r\\47 0.97 x\\48 1.10 x\\49 1.10 r\\50 0.82 r\\51 1.05 x\\52 1.20 x\\53 0.90 x\\};
\cnt{42 (11)}
\end{axis}
\begin{axis}[panel,at={(224.25pt,-413.6pt)}]
\addplot[dots] table[meta=c,row sep=\\]{x y c\\
1 1.00 g\\2 1.00 g\\3 1.00 g\\4 1.00 y\\5 1.00 y\\6 1.00 y\\7 1.00 y\\8 0.99 y\\9 1.00 y\\10 1.00 y\\11 1.01 y\\12 1.00 y\\13 1.00 y\\
14 1.01 o\\15 1.02 o\\16 0.99 o\\17 1.00 o\\18 0.98 o\\19 1.00 o\\20 1.01 o\\21 0.99 o\\22 1.03 o\\23 0.92 o\\24 1.12 o\\25 1.00 o\\26 0.97 o\\27 1.02 o\\28 0.98 o\\
29 1.00 r\\30 1.02 r\\31 0.98 r\\32 1.03 r\\33 1.10 r\\34 0.96 r\\35 1.00 r\\36 1.03 x\\37 1.06 r\\38 0.97 r\\39 1.03 r\\40 0.99 x\\41 1.13 r\\42 1.05 x\\43 1.05 x\\44 0.87 r\\45 1.00 r\\46 0.95 x\\47 1.04 r\\48 0.88 x\\49 0.98 r\\50 1.05 x\\51 1.00 r\\52 1.02 x\\53 0.94 r\\54 1.06 x\\55 0.95 x\\56 1.03 r\\57 0.86 r\\58 1.05 x\\59 0.98 r\\60 1.10 x\\61 1.00 r\\62 1.07 x\\63 0.94 r\\64 0.99 r\\65 0.90 r\\66 1.06 r\\67 0.87 r\\68 1.23 r\\69 1.13 x\\70 1.10 r\\};
\cnt{56 (14)}
\end{axis}
\begin{axis}[panel,at={(307.625pt,-413.6pt)}]
\addplot[dots] table[meta=c,row sep=\\]{x y c\\
1 1.00 g\\2 1.00 g\\3 1.01 g\\4 1.00 y\\5 1.00 y\\6 1.01 y\\7 1.02 y\\8 1.00 y\\9 1.00 y\\10 1.01 y\\11 1.00 y\\
12 1.00 o\\13 1.02 o\\14 0.99 o\\15 1.00 o\\16 1.01 o\\17 0.98 o\\18 1.00 o\\19 1.00 o\\20 0.99 o\\21 1.04 o\\22 1.00 o\\23 0.97 o\\24 0.92 o\\25 1.01 o\\26 0.98 o\\
27 1.00 r\\28 1.04 r\\29 0.98 x\\30 1.06 r\\31 0.96 r\\32 0.98 x\\33 1.05 r\\34 0.97 r\\35 0.96 r\\36 1.03 r\\37 0.97 x\\38 1.04 r\\39 0.97 x\\40 1.10 r\\41 0.96 x\\42 1.06 x\\43 1.14 x\\44 0.95 r\\45 1.02 r\\46 0.93 x\\47 1.04 r\\48 1.17 r\\49 0.97 r\\50 1.01 x\\51 0.97 x\\52 0.96 r\\53 1.18 r\\54 0.98 r\\55 0.87 r\\56 0.93 r\\57 1.02 x\\58 0.98 r\\59 1.00 x\\60 0.94 x\\61 1.05 r\\62 1.08 r\\63 0.98 x\\64 0.95 x\\65 1.03 r\\66 1.10 x\\67 1.05 r\\};
\cnt{51 (16)}
\end{axis}

% ---------------- Sample 10, So
\begin{axis}[panel,first,at={(57.5pt,-463.05pt)}]
\addplot[dots] table[meta=c,row sep=\\]{x y c\\
1 1.00 g\\2 1.00 g\\3 1.00 y\\4 1.00 y\\5 1.00 y\\6 1.00 y\\7 1.00 y\\8 1.00 y\\9 1.00 y\\10 1.00 y\\11 1.00 y\\12 0.99 y\\13 1.00 y\\14 1.00 y\\
15 1.00 o\\16 1.01 o\\17 1.00 o\\18 1.00 o\\19 0.99 o\\20 1.00 o\\21 1.01 o\\22 1.00 o\\23 0.99 o\\24 1.00 o\\25 1.02 o\\26 1.00 o\\27 0.98 o\\28 1.00 o\\29 1.01 o\\30 0.99 o\\31 1.00 o\\32 1.02 o\\33 0.98 o\\34 1.02 o\\35 1.01 o\\36 0.98 o\\37 0.98 o\\
38 1.03 r\\39 1.00 r\\40 0.98 r\\41 1.05 r\\42 0.99 r\\43 1.00 r\\44 0.97 r\\45 1.03 r\\46 0.95 r\\47 1.02 r\\48 0.94 r\\49 1.06 r\\50 1.00 r\\51 0.96 r\\52 1.03 r\\53 0.93 r\\54 0.99 r\\55 0.97 r\\56 1.04 r\\57 0.96 r\\58 1.11 r\\59 1.08 r\\60 1.03 r\\61 0.99 x\\62 0.84 x\\63 1.05 r\\64 1.00 r\\};
\cnt{62 (2)}
\end{axis}
\begin{axis}[panel,at={(140.875pt,-463.05pt)}]
\addplot[dots] table[meta=c,row sep=\\]{x y c\\
1 1.00 g\\2 1.00 g\\3 1.00 y\\4 1.00 y\\5 1.00 y\\6 1.00 y\\7 1.00 y\\8 1.00 y\\9 1.00 y\\10 1.00 y\\11 1.00 y\\12 1.00 y\\13 1.00 y\\14 1.00 y\\15 1.00 y\\
16 1.00 o\\17 1.00 o\\18 0.99 o\\19 1.00 o\\20 1.01 o\\21 1.00 o\\22 0.99 o\\23 1.00 o\\24 1.00 o\\25 1.01 o\\26 1.00 o\\27 0.99 o\\28 1.00 o\\29 1.01 o\\30 0.99 o\\31 1.00 o\\32 1.02 o\\33 1.00 o\\34 1.01 o\\35 1.00 o\\36 1.02 o\\37 1.01 o\\38 1.00 o\\39 1.01 o\\40 1.00 o\\41 1.23 o\\42 0.99 o\\43 1.02 o\\44 1.00 o\\45 0.98 o\\46 1.00 o\\
47 1.00 r\\48 1.00 r\\49 1.01 r\\50 1.00 r\\51 1.06 r\\52 1.00 r\\53 1.01 r\\54 0.98 r\\55 1.02 r\\56 0.91 r\\57 1.03 r\\58 0.98 r\\59 1.00 x\\60 0.96 r\\61 1.02 r\\62 1.08 r\\63 0.89 r\\64 0.92 x\\65 0.93 x\\};
\cnt{62 (3)}
\end{axis}
\begin{axis}[panel,at={(224.25pt,-463.05pt)}]
\addplot[dots] table[meta=c,row sep=\\]{x y c\\
1 1.00 g\\2 1.00 g\\3 1.00 y\\4 1.00 y\\5 1.00 y\\6 1.00 y\\7 1.00 y\\8 1.00 y\\9 1.00 y\\10 1.00 y\\11 1.00 y\\12 1.00 y\\13 1.00 y\\14 1.01 y\\
15 1.01 o\\16 1.00 o\\17 1.00 o\\18 0.99 o\\19 1.00 o\\20 1.01 o\\21 1.00 o\\22 0.98 o\\23 1.01 o\\24 1.00 o\\25 0.99 o\\26 1.01 o\\27 1.00 o\\28 0.98 o\\29 1.00 o\\30 1.01 o\\31 1.00 o\\32 0.98 o\\33 0.99 o\\34 1.01 o\\35 1.00 o\\36 0.98 o\\37 1.00 o\\38 0.99 o\\39 0.98 o\\
40 1.01 r\\41 1.02 r\\42 0.99 r\\43 1.02 r\\44 1.02 r\\45 1.01 r\\46 0.99 r\\47 1.03 r\\48 0.97 r\\49 1.01 r\\50 1.08 r\\51 0.98 r\\52 1.00 r\\53 0.96 r\\54 1.06 r\\55 1.03 r\\56 0.97 r\\57 1.04 r\\58 0.99 r\\59 1.07 r\\60 0.97 r\\61 1.03 r\\62 0.99 r\\63 1.15 x\\64 0.94 r\\65 0.89 r\\66 1.03 r\\67 1.09 r\\68 1.01 r\\69 0.92 r\\};
\cnt{68 (1)}
\end{axis}
\begin{axis}[panel,at={(307.625pt,-463.05pt)}]
\addplot[dots] table[meta=c,row sep=\\]{x y c\\
1 1.00 g\\2 1.00 g\\3 1.00 y\\4 1.00 y\\5 1.01 y\\6 1.00 y\\7 1.00 y\\8 1.00 y\\9 1.02 y\\10 1.01 y\\11 1.00 y\\12 1.00 y\\
13 1.03 o\\14 1.00 o\\15 1.02 o\\16 0.99 o\\17 1.00 o\\18 1.01 o\\19 0.98 o\\20 1.00 o\\21 0.99 o\\22 1.02 o\\23 1.00 o\\24 0.98 o\\25 1.00 o\\26 0.99 o\\27 1.02 o\\28 0.98 o\\29 1.00 o\\30 0.97 o\\31 0.97 o\\32 1.00 o\\33 1.02 o\\34 0.99 o\\35 0.98 o\\36 1.01 o\\37 1.00 o\\38 0.99 o\\39 1.01 o\\40 1.00 o\\41 1.01 o\\42 0.99 o\\43 1.02 o\\44 1.00 o\\
45 0.98 r\\46 1.01 x\\47 0.97 r\\48 1.02 r\\49 0.99 r\\50 1.05 r\\51 0.96 r\\52 0.99 r\\53 0.94 r\\54 1.01 r\\55 0.93 r\\56 0.98 r\\57 1.01 r\\58 1.08 x\\59 0.99 r\\60 1.11 r\\61 1.04 r\\62 0.99 r\\63 1.07 r\\64 1.04 r\\65 0.95 r\\66 1.17 r\\67 1.10 r\\68 1.12 x\\69 1.04 r\\70 0.92 r\\71 1.05 r\\72 0.91 r\\73 1.06 r\\74 1.01 r\\};
\cnt{71 (3)}
\end{axis}

% ---------------- headers, row labels, bracket
\begin{scope}[every node/.style={font=\my\bfseries\fontsize{12.7}{14}\selectfont, anchor=base}]
\node at (99.2pt,-15.9pt) {BF1+BR1};
\node at (182.6pt,-15.9pt) {BF1+BR2};
\node at (265.9pt,-15.9pt) {BF2+BR1};
\node at (349.3pt,-15.9pt) {BF2+BR2};
\end{scope}
\begin{scope}[every node/.style={font=\my\bfseries\fontsize{12.5}{14}\selectfont, anchor=center}]
\node at (35pt,-42.7pt) {S};
\node at (35pt,-92.2pt) {M};
\node at (35pt,-141.6pt) {L};
\node at (35pt,-191.1pt) {Un};
\node at (35pt,-240.5pt) {So};
\node at (35pt,-290pt) {S};
\node at (35pt,-339.4pt) {M};
\node at (35pt,-388.9pt) {L};
\node at (35pt,-438.3pt) {Un};
\node at (35pt,-487.8pt) {So};
\end{scope}
\node[rotate=90, font=\my\bfseries\fontsize{15}{17}\selectfont] at (10.5pt,-141.6pt) {\scalebox{1.2}[1]{Sample 8}};
\node[rotate=90, font=\my\bfseries\fontsize{15}{17}\selectfont] at (10.5pt,-389pt) {\scalebox{1.2}[1]{Sample 10}};
\draw[line width=1pt] (35pt,-18.5pt) -| (20.5pt,-512.5pt) -- (35pt,-512.5pt);
\draw[line width=1pt] (20.5pt,-265.25pt) -- (35pt,-265.25pt);

% ---------------- lane note and abundance key
\draw[line width=0.8pt, -latex] (56pt,-521pt) -| (49pt,-513.5pt);
\begin{scope}[every node/.style={font=\my\fontsize{7.6}{9}\selectfont, anchor=west, inner sep=0pt}]
\node at (56.5pt,-521pt) {Lane 1 / Lane 2};
\node at (155pt,-521pt) {OTU abundance:};
\node at (224.5pt,-521pt) {> 10\%};
\node at (257.5pt,-521pt) {10-1\%};
\node at (299pt,-521pt) {1-0.1\%};
\node at (345.5pt,-521pt) {0.1-0.01\%};
\end{scope}
\draw[cg, line width=0.8pt] (220.8pt,-521pt) circle (2.2pt);
\draw[cy, line width=0.8pt] (254pt,-521pt) circle (2.2pt);
\draw[co, line width=0.8pt] (295pt,-521pt) circle (2.2pt);
\draw[cr, line width=0.8pt] (341.5pt,-521pt) circle (2.2pt);

% ---------------- caption
\node[anchor=base west, inner sep=0pt] at (4.5pt,-546pt) {\parbox[t]{395.5pt}{\fontsize{9.85}{11.35}\selectfont\frenchspacing
\textbf{Figure S6}: Number of sequences per OTU from sequencing lane 1 divided by lane 2 (minimum\linebreak
sequence abundance per OTU, from both replicates combined 0.01\%). OTU abundance is indicated\linebreak
by colour, with the total number of target OTUs per sample and primer combination is given on the\linebreak
top left corner in each plot (number of non target OTUs in brackets). Target hits are indicated with\linebreak
circles (``o''), while non target hits and unidentified OTUs are indicated by crosses in the plot (``x'').}};
\end{tikzpicture}
\end{document}
